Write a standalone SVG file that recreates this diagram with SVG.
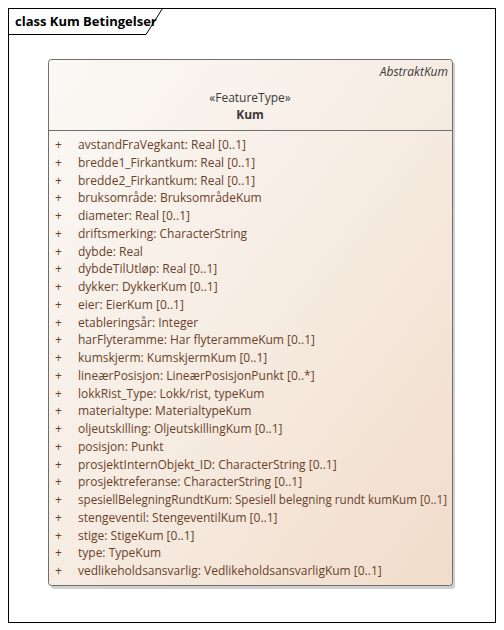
<svg xmlns="http://www.w3.org/2000/svg" width="504" height="630" viewBox="0 0 504 630">
<defs>
<linearGradient id="g" x1="0" y1="0" x2="1" y2="1">
<stop offset="0" stop-color="#fbf9f6"/>
<stop offset="0.5" stop-color="#f6ece2"/>
<stop offset="1" stop-color="#f1dcca"/>
</linearGradient>
<style>
.t{font-family:"Segoe UI","Open Sans","Liberation Sans",sans-serif;font-size:12px;fill:#6a3f2a}
.h{font-family:"Segoe UI","Open Sans","Liberation Sans",sans-serif;font-size:12px;fill:#3a3a3a}
</style>
</defs>
<rect width="504" height="630" fill="#ffffff"/>
<g id="frame">
<rect x="8.5" y="8.5" width="487" height="614" fill="none" stroke="#000" stroke-width="1"/>
<path d="M8.5,34.5 H146 L162.5,8.5" fill="none" stroke="#000" stroke-width="1"/>
<text x="15" y="26" style="font-family:'Segoe UI','Open Sans','Liberation Sans',sans-serif;font-size:13px;font-weight:bold;fill:#000">class Kum Betingelser</text>
</g>
<g id="Kum">
<rect x="51" y="62" width="404" height="527" rx="3" fill="#b0b0b0" opacity="0.6"/>
<rect x="48.5" y="59.5" width="404" height="526" rx="3" fill="url(#g)" stroke="#6e6e6e" stroke-width="1"/>
<line x1="48.5" y1="130.5" x2="452.5" y2="130.5" stroke="#6e6e6e" stroke-width="1"/>
<text class="h" x="448" y="76" text-anchor="end" font-style="italic">AbstraktKum</text>
<text class="h" x="250" y="102" text-anchor="middle">«FeatureType»</text>
<text class="h" x="250" y="119" text-anchor="middle" font-weight="bold">Kum</text>
<g class="t">
<text x="55" y="149">+</text><text x="78" y="149">avstandFraVegkant: Real [0..1]</text>
<text x="55" y="166.75">+</text><text x="78" y="166.75">bredde1_Firkantkum: Real [0..1]</text>
<text x="55" y="184.5">+</text><text x="78" y="184.5">bredde2_Firkantkum: Real [0..1]</text>
<text x="55" y="202.25">+</text><text x="78" y="202.25">bruksområde: BruksområdeKum</text>
<text x="55" y="220">+</text><text x="78" y="220">diameter: Real [0..1]</text>
<text x="55" y="237.75">+</text><text x="78" y="237.75">driftsmerking: CharacterString</text>
<text x="55" y="255.5">+</text><text x="78" y="255.5">dybde: Real</text>
<text x="55" y="273.25">+</text><text x="78" y="273.25">dybdeTilUtløp: Real [0..1]</text>
<text x="55" y="291">+</text><text x="78" y="291">dykker: DykkerKum [0..1]</text>
<text x="55" y="308.75">+</text><text x="78" y="308.75">eier: EierKum [0..1]</text>
<text x="55" y="326.5">+</text><text x="78" y="326.5">etableringsår: Integer</text>
<text x="55" y="344.25">+</text><text x="78" y="344.25">harFlyteramme: Har flyterammeKum [0..1]</text>
<text x="55" y="362">+</text><text x="78" y="362">kumskjerm: KumskjermKum [0..1]</text>
<text x="55" y="379.75">+</text><text x="78" y="379.75">lineærPosisjon: LineærPosisjonPunkt [0..*]</text>
<text x="55" y="397.5">+</text><text x="78" y="397.5">lokkRist_Type: Lokk/rist, typeKum</text>
<text x="55" y="415.25">+</text><text x="78" y="415.25">materialtype: MaterialtypeKum</text>
<text x="55" y="433">+</text><text x="78" y="433">oljeutskilling: OljeutskillingKum [0..1]</text>
<text x="55" y="450.75">+</text><text x="78" y="450.75">posisjon: Punkt</text>
<text x="55" y="468.5">+</text><text x="78" y="468.5">prosjektInternObjekt_ID: CharacterString [0..1]</text>
<text x="55" y="486.25">+</text><text x="78" y="486.25">prosjektreferanse: CharacterString [0..1]</text>
<text x="55" y="504">+</text><text x="78" y="504" textLength="369" lengthAdjust="spacingAndGlyphs">spesiellBelegningRundtKum: Spesiell belegning rundt kumKum [0..1]</text>
<text x="55" y="521.75">+</text><text x="78" y="521.75">stengeventil: StengeventilKum [0..1]</text>
<text x="55" y="539.5">+</text><text x="78" y="539.5">stige: StigeKum [0..1]</text>
<text x="55" y="557.25">+</text><text x="78" y="557.25">type: TypeKum</text>
<text x="55" y="575">+</text><text x="78" y="575">vedlikeholdsansvarlig: VedlikeholdsansvarligKum [0..1]</text>
</g>
</g>
<g id="connectors"/>
</svg>
